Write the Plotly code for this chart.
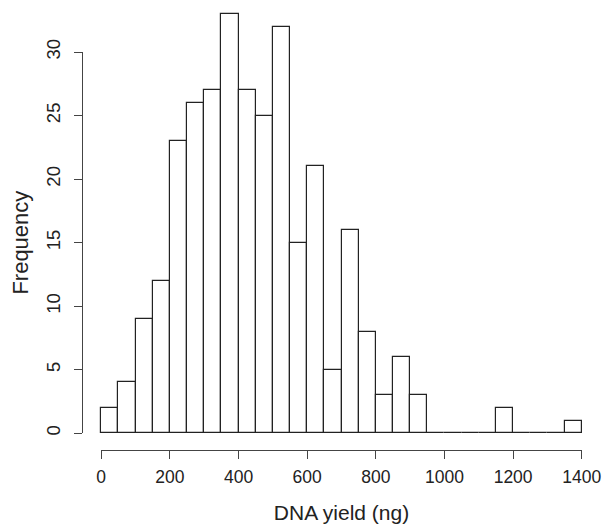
import plotly.graph_objects as go

bin_left = [0, 50, 100, 150, 200, 250, 300, 350, 400, 450, 500, 550, 600, 650,
            700, 750, 800, 850, 900, 950, 1000, 1050, 1100, 1150, 1200, 1250, 1300, 1350]
bin_width = 50
counts = [2, 4, 9, 12, 23, 26, 27, 33, 27, 25, 32, 15, 21, 5,
          16, 8, 3, 6, 3, 0, 0, 0, 0, 2, 0, 0, 0, 1]
x_ticks = [0, 200, 400, 600, 800, 1000, 1200, 1400]
y_ticks = [0, 5, 10, 15, 20, 25, 30]

x_lo, x_hi = 0, 1400
pad_x = 0.04 * (x_hi - x_lo)
y_lo, y_hi = 0, 33
pad_y = 0.04 * (y_hi - y_lo)
xr = [x_lo - pad_x, x_hi + pad_x]
yr = [y_lo - pad_y, 33.47]

centers = [b + bin_width / 2 for b in bin_left]

fig = go.Figure()
fig.add_trace(go.Bar(
    x=centers, y=counts, width=bin_width,
    marker=dict(color="white", line=dict(color="#222222", width=1.2)),
    showlegend=False, hoverinfo="skip",
))
# invisible trace to carry the R-style axes
fig.add_trace(go.Scatter(x=[x_lo, x_hi], y=[0, 30], xaxis="x2", yaxis="y2",
                         mode="markers", marker=dict(opacity=0),
                         showlegend=False, hoverinfo="skip"))

font = "Liberation Sans, Arial, sans-serif"
xd0 = (x_lo - xr[0]) / (xr[1] - xr[0])
xd1 = (x_hi - xr[0]) / (xr[1] - xr[0])
yd0 = (0 - yr[0]) / (yr[1] - yr[0])
yd1 = (30 - yr[0]) / (yr[1] - yr[0])

fig.update_layout(
    width=603, height=516,
    margin=dict(l=74, r=10, t=0, b=74),
    paper_bgcolor="white", plot_bgcolor="rgba(0,0,0,0)",
    bargap=0,
    font=dict(family=font, size=17, color="#222222"),
    xaxis=dict(range=xr, visible=False, domain=[0, 1]),
    yaxis=dict(range=yr, visible=False, domain=[0, 1]),
    xaxis2=dict(anchor="free", position=0, domain=[xd0, xd1],
                range=[x_lo, x_hi], tickvals=x_ticks, showline=True,
                linecolor="#444444", linewidth=1, ticks="outside", ticklen=8,
                tickcolor="#444444", showgrid=False, zeroline=False,
                tickfont=dict(size=17.5), automargin=False,
                ticklabelstandoff=3,
                title=dict(text="DNA yield (ng)", font=dict(size=21), standoff=20)),
    yaxis2=dict(anchor="free", position=0, domain=[yd0, yd1],
                range=[0, 30], tickvals=y_ticks, showline=True,
                linecolor="#444444", linewidth=1, ticks="outside", ticklen=8,
                tickcolor="#444444", showgrid=False, zeroline=False,
                tickangle=-90, tickfont=dict(size=18.5), automargin=False,
                ticklabelstandoff=7,
                title=dict(text="Frequency", font=dict(size=22), standoff=20)),
)

fig.write_html("out.html")
